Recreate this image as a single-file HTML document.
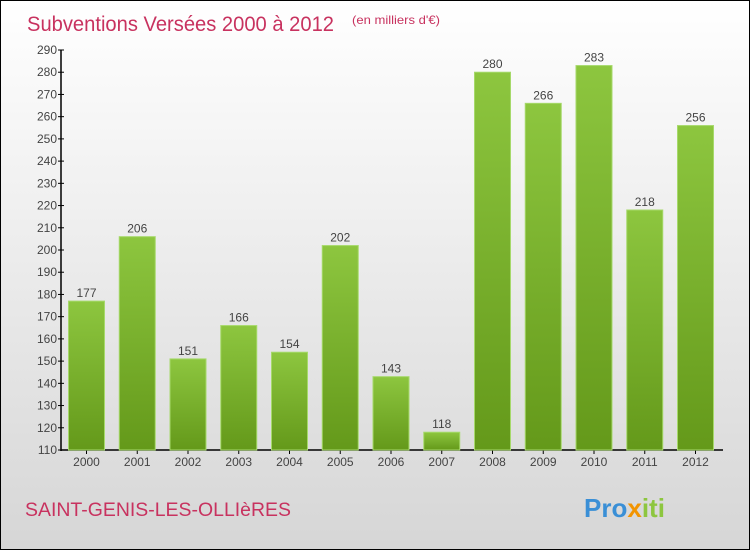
<!DOCTYPE html>
<html><head><meta charset="utf-8"><style>
body{margin:0;}
#c{width:748px;height:548px;border:1px solid #000;background:linear-gradient(#ffffff,#d6d6d6);position:relative;font-family:"Liberation Sans",sans-serif;}
</style></head><body>
<div id="c">
<svg id="s" width="748" height="548" xmlns="http://www.w3.org/2000/svg" style="position:absolute;left:0;top:0">
<defs><linearGradient id="g" x1="0" y1="0" x2="0" y2="1"><stop offset="0" stop-color="#8dc63f"/><stop offset="1" stop-color="#64991a"/></linearGradient></defs>
<text x="26" y="30" font-size="21" fill="#c8325f" textLength="307" lengthAdjust="spacingAndGlyphs">Subventions Versées 2000 à 2012</text>
<text x="351" y="23" font-size="12" fill="#c8325f" textLength="88" lengthAdjust="spacingAndGlyphs">(en milliers d'€)</text>
<text x="24" y="515" font-size="19" fill="#c8325f" textLength="266" lengthAdjust="spacingAndGlyphs">SAINT-GENIS-LES-OLLIèRES</text>
<g font-size="26" font-weight="bold">
<text x="583" y="516"><tspan fill="#3a8fd6">Pro</tspan><tspan fill="#f29400">x</tspan><tspan fill="#8dc63f">iti</tspan></text></g>
<g id="axes"></g><g id="bars"></g>
</svg></div>
<script>
const years=["2000","2001","2002","2003","2004","2005","2006","2007","2008","2009","2010","2011","2012"];
const values=[177,206,151,166,154,202,143,118,280,266,283,218,256];
const ticks=[110,120,130,140,150,160,170,180,190,200,210,220,230,240,250,260,270,280,290];
const NS="http://www.w3.org/2000/svg";
const y0=449,yTop=49,vmin=110,vmax=290;
const y=v=>y0-(v-vmin)/(vmax-vmin)*(y0-yTop);
const x=i=>85.5+i*50.75;
function mk(t,a,p){const e=document.createElementNS(NS,t);for(const k in a)e.setAttribute(k,a[k]);p.appendChild(e);return e;}
const ax=document.getElementById('axes'),bg=document.getElementById('bars');
let l=mk('line',{x1:60,y1:yTop,x2:60,y2:y0+1,stroke:'#000','stroke-width':1.5},ax);


l=mk('line',{x1:60,y1:y0,x2:722,y2:y0,stroke:'#000','stroke-width':1.5},ax);


ticks.forEach(v=>{
 mk('line',{x1:57,x2:63,y1:y(v),y2:y(v),stroke:'#000'},ax);
 const t=mk('text',{x:56,y:y(v)+4,'font-size':12,fill:'#444','text-anchor':'end'},ax);t.textContent=v;
 
 
});
years.forEach((yr,i)=>{
 const cx=x(i),v=values[i];
 const r=mk('rect',{x:cx-18,y:y(v),width:36,height:y0-y(v),fill:'url(#g)',stroke:'#a6d96a','stroke-width':1},bg);
 
 
 const t=mk('text',{x:cx,y:y(v)-4,'font-size':12,fill:'#444','text-anchor':'middle'},bg);t.textContent=v;
 
 
 mk('line',{x1:cx,x2:cx,y1:y0,y2:y0+4,stroke:'#000'},ax);
 const xl=mk('text',{x:cx,y:y0+16,'font-size':12,fill:'#444','text-anchor':'middle'},ax);xl.textContent=yr;
 
 
});
</script>
</body></html>
